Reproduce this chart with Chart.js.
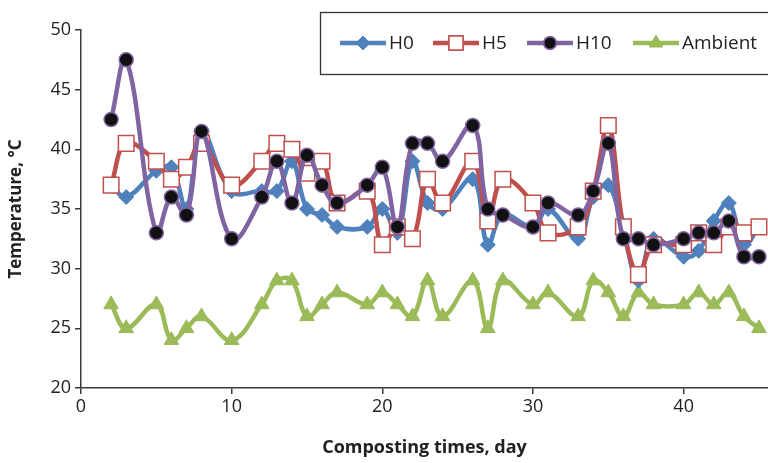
<!DOCTYPE html>
<html>
<head>
<meta charset="utf-8">
<script src="https://cdn.jsdelivr.net/npm/chart.js@4/dist/chart.umd.min.js"></script>
<style>
  body { margin: 0; background: #fff; }
</style>
</head>
<body>
<canvas id="temp-chart" width="768" height="463"></canvas>
<script>
// Composting days (x values, same for every series)
const days = [2, 3, 5, 6, 7, 8, 10, 12, 13, 14, 15, 16, 17, 19, 20, 21, 22, 23, 24, 26, 27, 28, 30, 31, 33, 34, 35, 36, 37, 38, 40, 41, 42, 43, 44, 45];

// Temperatures, °C
const h0 = [37, 36, 38.2, 38.5, 35, 41.5, 36.5, 36.5, 36.5, 39, 35, 34.5, 33.5, 33.5, 35, 33, 39, 35.5, 35, 37.5, 32, 34.5, 33.5, 35, 32.5, 36, 37, 33, 29, 32.5, 31, 31.5, 34, 35.5, 32, 33.5];
const h5 = [37, 40.5, 39, 37.5, 38.5, 40.5, 37, 39, 40.5, 40, 38, 39, 35.5, 36.5, 32, 33.5, 32.5, 37.5, 35.5, 39, 34, 37.5, 35.5, 33, 33.5, 36.5, 42, 33.5, 29.5, 32, 32, 33, 32, 33.5, 33, 33.5];
const h10 = [42.5, 47.5, 33, 36, 34.5, 41.5, 32.5, 36, 39, 35.5, 39.5, 37, 35.5, 37, 38.5, 33.5, 40.5, 40.5, 39, 42, 35, 34.5, 33.5, 35.5, 34.5, 36.5, 40.5, 32.5, 32.5, 32, 32.5, 33, 33, 34, 31, 31];
const ambient = [27, 25, 27, 24, 25, 26, 24, 27, 29, 29, 26, 27, 28, 27, 28, 27, 26, 29, 26, 29, 25, 29, 27, 28, 26, 29, 28, 26, 28, 27, 27, 28, 27, 28, 26, 25];

const seriesLabels = ["H0", "H5", "H10", "Ambient"];
const yTicks = [20, 25, 30, 35, 40, 45, 50];
const xTicks = [0, 10, 20, 30, 40];

const FONT = "'Open Sans', 'Noto Sans', sans-serif";
const AXIS = '#3a3a3a';

const toPoints = vals => vals.map((v, i) => ({ x: days[i], y: v }));

// styles per series
const styles = [
  { line: '#4f81bd', point: 'rectRot', radius: 7.5, fill: '#4f81bd', border: '#4f81bd', bw: 1 },
  { line: '#c0504d', point: 'rect', radius: 11, fill: '#ffffff', border: '#c0504d', bw: 1.5 },
  { line: '#8064a2', point: 'circle', radius: 7, fill: '#111111', border: '#8064a2', bw: 1.5 },
  { line: '#9bbb59', point: 'triangle', radius: 8.5, fill: '#9bbb59', border: '#9bbb59', bw: 1 }
];

const allData = [h0, h5, h10, ambient];
const drawOrder = [3, 2, 1, 4]; // H10 on top, then H5, then H0

const datasets = allData.map((vals, i) => ({
  label: seriesLabels[i],
  data: toPoints(vals),
  borderColor: styles[i].line,
  borderWidth: 4.5,
  tension: 0.4,
  pointStyle: styles[i].point,
  pointRadius: styles[i].radius,
  pointBackgroundColor: styles[i].fill,
  pointBorderColor: styles[i].border,
  pointBorderWidth: styles[i].bw,
  order: drawOrder[i],
  clip: 10
}));

// legend box drawn over the plot, like the original
const legendBox = {
  id: 'legendBox',
  afterDraw(chart) {
    const ctx = chart.ctx;
    ctx.save();
    ctx.strokeStyle = '#333';
    ctx.lineWidth = 1.3;
    ctx.fillStyle = '#fff';
    ctx.fillRect(320, 12, 460, 62);
    ctx.strokeRect(320.5, 12.5, 460, 62);
    const cy = 43;
    const starts = [340, 433, 527, 633];
    starts.forEach((x0, i) => {
      const s = styles[i];
      ctx.strokeStyle = s.line;
      ctx.lineWidth = 4.5;
      ctx.beginPath();
      ctx.moveTo(x0, cy);
      ctx.lineTo(x0 + 46, cy);
      ctx.stroke();
      ctx.fillStyle = s.fill;
      ctx.strokeStyle = s.border;
      ctx.lineWidth = s.bw;
      Chart.helpers.drawPoint(ctx, { pointStyle: s.point, radius: s.radius * 0.9, borderWidth: s.bw }, x0 + 23, cy);
      ctx.fill();
      ctx.stroke();
      ctx.fillStyle = '#222';
      ctx.font = '19px ' + FONT;
      ctx.textBaseline = 'middle';
      ctx.fillText(seriesLabels[i], x0 + 49, cy + 1);
    });
    ctx.restore();
  }
};

const ctx = document.getElementById('temp-chart').getContext('2d');
const tempChart = new Chart(ctx, {
  type: 'line',
  data: { datasets: datasets },
  options: {
    responsive: false,
    animation: false,
    layout: { autoPadding: false, padding: { top: 30, right: 0, left: 0, bottom: 0 } },
    plugins: {
      legend: { display: false },
      tooltip: { enabled: false }
    },
    scales: {
      x: {
        type: 'linear',
        min: 0,
        max: 45.6,
        afterBuildTicks: scale => { scale.ticks = xTicks.map(v => ({ value: v })); },
        afterFit: scale => { scale.height = 75; scale.paddingLeft = 0; scale.paddingRight = 0; },
        grid: { drawOnChartArea: false, drawTicks: true, tickLength: 6, color: AXIS, lineWidth: 1.5 },
        border: { color: AXIS, width: 1.5 },
        ticks: { color: '#222', font: { family: FONT, size: 18 }, padding: 2 },
        title: {
          display: true,
          text: 'Composting times, day',
          color: '#222',
          font: { family: FONT, size: 18, weight: 'bold' },
          padding: { top: 12 }
        }
      },
      y: {
        min: 20,
        max: 50,
        afterBuildTicks: scale => { scale.ticks = yTicks.map(v => ({ value: v })); },
        afterFit: scale => { scale.width = 81; scale.paddingTop = 0; scale.paddingBottom = 0; },
        grid: { drawOnChartArea: false, drawTicks: true, tickLength: 6, color: AXIS, lineWidth: 1.5 },
        border: { color: AXIS, width: 1.5 },
        ticks: { color: '#222', font: { family: FONT, size: 18 }, padding: 4 },
        title: {
          display: true,
          text: 'Temperature, °C',
          color: '#222',
          font: { family: FONT, size: 17, weight: 'bold' },
          padding: { top: 6, bottom: 0 }
        }
      }
    }
  },
  plugins: [legendBox]
});
</script>
</body>
</html>
